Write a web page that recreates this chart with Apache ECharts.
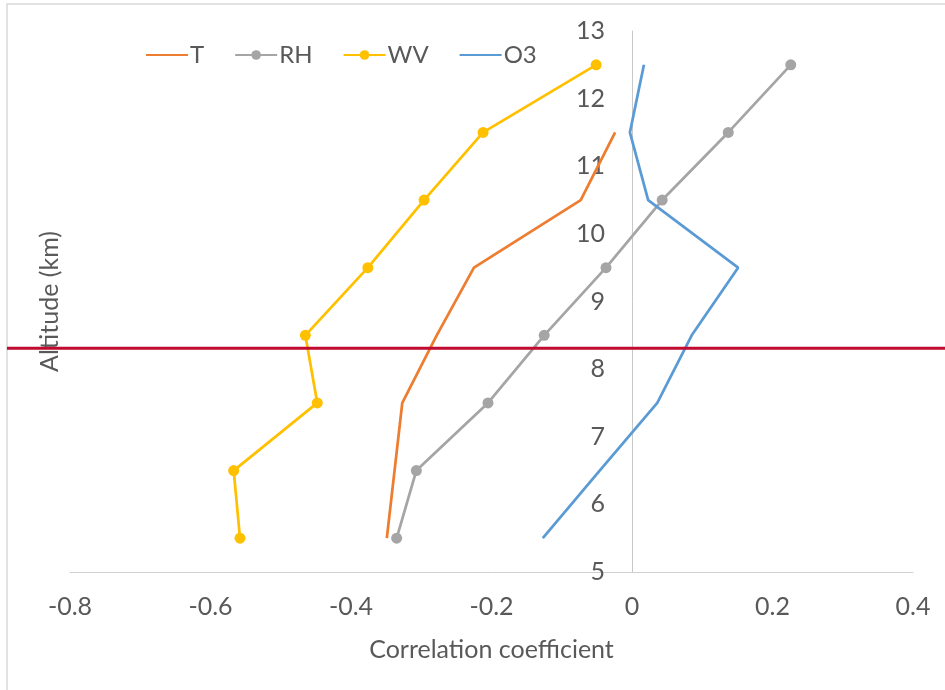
<!DOCTYPE html>
<html>
<head>
<meta charset="utf-8">
<script src="https://cdn.jsdelivr.net/npm/echarts@6/dist/echarts.min.js"></script>
<style>
html,body{margin:0;padding:0;background:#fff;}
#chart{width:945px;height:690px;}
</style>
</head>
<body>
<div id="chart"></div>
<script>
const altitudes = [5.5, 6.5, 7.5, 8.5, 9.5, 10.5, 11.5, 12.5];
const tValues  = [-0.349, -0.338, -0.327, -0.278, -0.225, -0.073, -0.024];
const rhValues = [-0.335, -0.307, -0.205, -0.125, -0.037, 0.043, 0.137, 0.226];
const wvValues = [-0.558, -0.567, -0.448, -0.465, -0.376, -0.296, -0.212, -0.051];
const o3Values = [-0.127, -0.046, 0.036, 0.085, 0.151, 0.023, -0.003, 0.017];
const referenceAltitude = 8.31;
const seriesNames = ['T', 'RH', 'WV', 'O3'];
const xTitle = 'Correlation coefficient';
const yTitle = 'Altitude (km)';

const FONT = 'Lato';
const TXT = '#595959';

function pairs(vals) { return vals.map((v, i) => [v, altitudes[i]]); }

const chart = echarts.init(document.getElementById('chart'), null, {renderer: 'canvas'});

function lineSeries(name, vals, color, marker) {
  return {
    name: name,
    type: 'line',
    data: pairs(vals),
    symbol: marker ? 'circle' : 'none',
    symbolSize: 11,
    showSymbol: marker,
    lineStyle: {color: color, width: 2.75},
    itemStyle: {color: color},
    animation: false,
    z: 3
  };
}

const GRID_LEFT = 70;

chart.setOption({
  animation: false,
  textStyle: {fontFamily: FONT},
  grid: {left: GRID_LEFT, right: 32, top: 31, bottom: 118, containLabel: false, outerBoundsMode: 'none'},
  legend: {
    data: [
      {name: seriesNames[0], itemStyle: {opacity: 0}},
      {name: seriesNames[1]},
      {name: seriesNames[2]},
      {name: seriesNames[3], itemStyle: {opacity: 0}}
    ],
    left: 140,
    top: 38,
    itemWidth: 42,
    itemHeight: 12,
    itemGap: 30,
    textStyle: {fontFamily: FONT, fontSize: 24, color: TXT, padding: [0, 0, 0, -3]}
  },
  xAxis: {
    type: 'value',
    min: -0.8, max: 0.4, interval: 0.2,
    axisLine: {show: true, onZero: false, lineStyle: {color: '#D0D0D0', width: 1}},
    axisTick: {show: false},
    splitLine: {show: false},
    axisLabel: {fontFamily: FONT, fontSize: 25, color: TXT, margin: 22,
      formatter: v => String(Math.round(v * 10) / 10)},
    name: xTitle,
    nameLocation: 'middle',
    nameGap: 65,
    nameTextStyle: {fontFamily: FONT, fontSize: 25, color: TXT}
  },
  yAxis: {
    type: 'value',
    min: 5, max: 13, interval: 1,
    axisLine: {show: true, onZero: true, lineStyle: {color: '#C8C8C8', width: 1}},
    axisTick: {show: false},
    splitLine: {show: false},
    axisLabel: {fontFamily: FONT, fontSize: 25, color: TXT, margin: 27},
    name: yTitle,
    nameLocation: 'middle',
    nameRotate: 90,
    nameGap: 8,
    nameTextStyle: {fontFamily: FONT, fontSize: 25, color: TXT}
  },
  series: [
    lineSeries(seriesNames[0], tValues, '#ED7D31', false),
    lineSeries(seriesNames[1], rhValues, '#A5A5A5', true),
    lineSeries(seriesNames[2], wvValues, '#FFC000', true),
    lineSeries(seriesNames[3], o3Values, '#5B9BD5', false)
  ]
});

// Labels of the y axis sit beside the axis line at x = 0 (computed from the x scale)
const zeroX = chart.convertToPixel({xAxisIndex: 0}, 0);
chart.setOption({yAxis: {axisLabel: {margin: GRID_LEFT - zeroX + 27}}});

const py = chart.convertToPixel({yAxisIndex: 0}, referenceAltitude);
chart.setOption({
  graphic: [
    {type: 'rect', shape: {x: 7, y: 4, width: 1000, height: 1000}, style: {fill: 'none', stroke: '#D9D9D9', lineWidth: 1.5}, z: 0, silent: true},
    {type: 'line', shape: {x1: 7, y1: py, x2: 945, y2: py}, style: {stroke: '#C00A30', lineWidth: 3}, z: 10, silent: true}
  ]
});
</script>
</body>
</html>
